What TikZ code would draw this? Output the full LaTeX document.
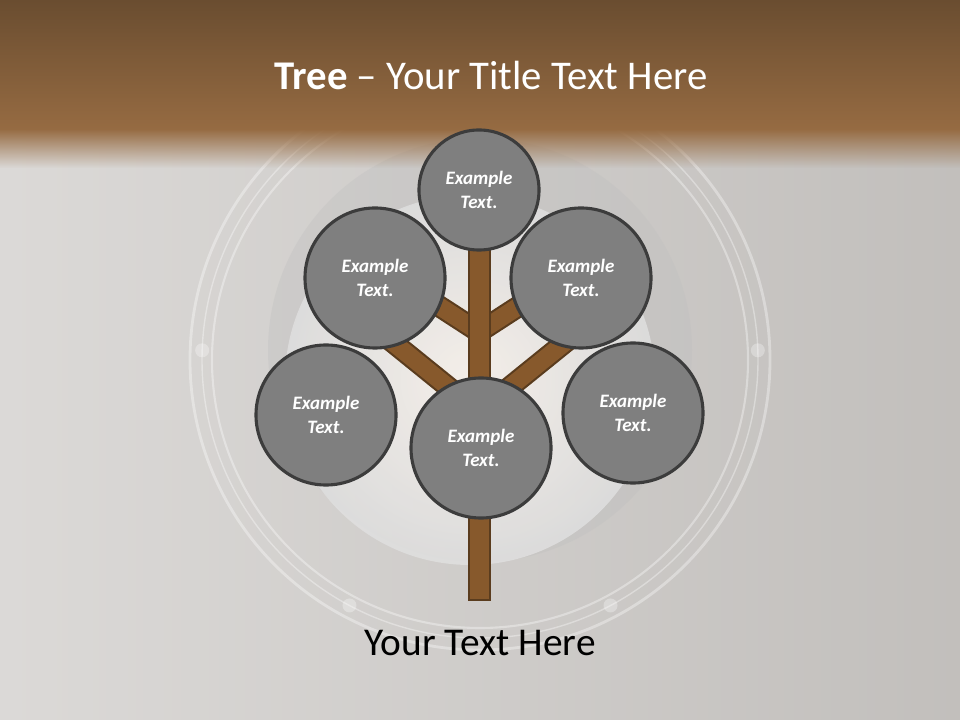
\documentclass[tikz,border=0pt]{standalone}
\usepackage{fontspec}
\setmainfont{Carlito}
\usetikzlibrary{positioning,calc,fadings}
\definecolor{woodfill}{HTML}{87592C}
\definecolor{woodline}{HTML}{5A3C1E}
\definecolor{leafgray}{HTML}{7F7F7F}
\definecolor{leafline}{HTML}{3C3C3C}
\definecolor{bandtop}{HTML}{6A4D30}
\definecolor{bandbot}{HTML}{966B42}
\definecolor{slidegray}{HTML}{CCC9C6}
\tikzset{
  leaf/.style={circle, draw=leafline, line width=2.2pt, fill=leafgray,
    minimum size=3.5cm, inner sep=0pt, align=center, text=white,
    font=\bfseries\itshape\fontsize{13.5}{16.5}\selectfont},
  branch/.style={draw=woodline, line width=1.5pt, double=woodfill, double distance=12.5pt},
  ring/.style={draw=white, opacity=0.35},
}

\begin{document}
\begin{tikzpicture}[x=0.025cm,y=-0.025cm]

\useasboundingbox (0,0) rectangle (960,720);

% backdrop
\shade[left color=slidegray!70!white, right color=slidegray!95!black] (0,120) rectangle (960,720);

% lens rings
\fill[black!25, opacity=0.35] (480,350) circle (212);
\shade[inner color=white!95!orange, outer color=black!12, opacity=0.8] (470,380) circle (185);
\draw[ring, line width=2pt] (480,360) circle (290);
\draw[ring, line width=1pt] (480,360) circle (278);
\draw[ring, line width=1.5pt] (480,360) circle (268);
\foreach \a in {-2,62,118,182} \fill[white, opacity=0.3] ($(480,360)+(\a:278)$) circle (7);

% title band
\shade[top color=bandtop, bottom color=bandbot] (0,0) rectangle (960,130);
\fill[bandbot, path fading=south] (0,129) rectangle (960,168);

% tree
\coordinate (forkhi) at (479,332);
\coordinate (forklo) at (479,412);
\coordinate (tipUL) at (425,297);
\coordinate (tipUR) at (533,297);
\coordinate (tipLL) at (390,340);
\coordinate (tipLR) at (568,340);

\path[branch] (forkhi) -- (tipUL);
\path[branch] (forkhi) -- (tipUR);
\path[branch] (forklo) -- (tipLL);
\path[branch] (forklo) -- (tipLR);
\filldraw[draw=woodline, fill=woodfill, line width=1.5pt] (469,240) rectangle (490,600);

\node[leaf, minimum size=3cm] (crown) at (479,190) {Example\\Text.};
\node[leaf] (upleft) at (375,278) {Example\\Text.};
\node[leaf] (upright) at (581,278) {Example\\Text.};
\node[leaf] (lowleft) at (326,415) {Example\\Text.};
\node[leaf] (lowright) at (633,413) {Example\\Text.};
\node[leaf] (middle) at (481,448) {Example\\Text.};

% texts
\node[text=white, font=\fontsize{29}{32}\selectfont] (title) at (491,75) {\textbf{Tree} -- Your Title Text Here};
\node[font=\fontsize{28}{32}\selectfont] (caption) at (480,643) {Your Text Here};

\end{tikzpicture}
\end{document}
